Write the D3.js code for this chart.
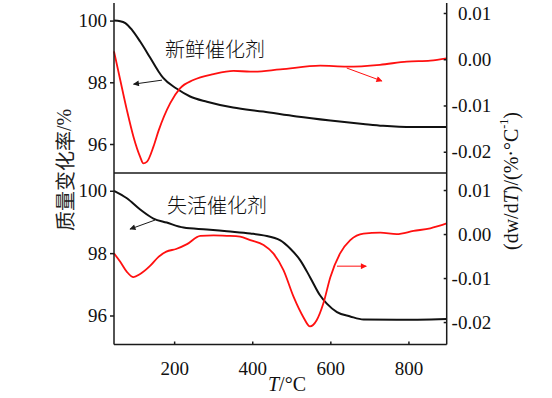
<html>

<head>
    <title>TG-DTG</title>
    <script src="https://d3js.org/d3.v7.min.js"></script>
    <style>
        body {
            margin: 0;
            background: #fff;
        }

        svg {
            font-family: "Liberation Serif", "DejaVu Serif", serif;
        }

        .axis path,
        .axis line {
            stroke: #1a1a1a;
            stroke-width: 1.5px;
        }

        .axis text {
            font-family: "Liberation Serif", serif;
            font-size: 19px;
            fill: #111;
        }

        .cn {
            font-family: "Noto Sans CJK SC", sans-serif;
            font-weight: 300;
            fill: #111;
        }

        .line {
            fill: none;
            stroke-linejoin: round;
        }
    </style>
</head>

<body>
    <div id="chart"></div>

    <script>
        /* Data: fresh catalyst (top panel) */
        var freshTgT = [46, 62, 75, 92, 113, 138, 160, 172, 207, 241, 284, 351, 428, 514, 600, 684, 735, 812, 898];
        var freshTg = [100.0, 99.98, 99.92, 99.70, 99.32, 98.81, 98.35, 98.14, 97.79, 97.54, 97.37, 97.18, 97.05, 96.89, 96.76, 96.65, 96.59, 96.55, 96.55];

        var freshDtgT = [46, 62, 79, 96, 113, 121, 130, 147, 160, 190, 215, 249, 301, 352, 395, 472, 574, 642, 727, 796, 856, 898];
        var freshDtg = [0.0017, -0.0045, -0.0110, -0.0168, -0.0211, -0.0225, -0.0222, -0.0189, -0.0155, -0.0095, -0.0063, -0.0045, -0.0032, -0.0025, -0.0027, -0.0022, -0.0014, -0.0016, -0.0012, -0.0005, -0.0003, 0.0002];

        /* Data: deactivated catalyst (bottom panel) */
        var usedTgT = [46, 79, 113, 147, 181, 224, 284, 335, 395, 429, 472, 497, 523, 548, 574, 591, 617, 651, 685, 770, 898];
        var usedTg = [100.0, 99.76, 99.40, 99.11, 98.98, 98.82, 98.76, 98.70, 98.63, 98.57, 98.41, 98.15, 97.77, 97.23, 96.64, 96.38, 96.11, 95.97, 95.87, 95.86, 95.89];

        var usedDtgT = [46, 62, 79, 96, 113, 139, 160, 180, 205, 233, 267, 301, 335, 369, 395, 429, 454, 480, 506, 531, 548, 565, 582, 600, 625, 651, 685, 728, 770, 813, 856, 898];
        var usedDtg = [-0.0044, -0.0063, -0.0086, -0.0098, -0.0091, -0.0072, -0.0052, -0.0040, -0.0034, -0.0023, -0.0004, -0.0003, -0.0004, -0.0006, -0.0014, -0.0025, -0.0044, -0.0082, -0.0143, -0.0189, -0.0210, -0.0196, -0.0158, -0.0098, -0.0044, -0.0014, 0.0001, 0.0003, 0.0000, 0.0007, 0.0013, 0.0024];

        /* Tick values */
        var xTicks = [200, 400, 600, 800];
        var tgTicks = [96, 98, 100];
        var dtgTicks = [-0.02, -0.01, 0.00, 0.01];

        var width = 552;
        var height = 398;
        var left = 114, right = 446.7;
        var top1 = 3, mid = 173, bottom2 = 344.5;

        var red = "#ff1010";

        /* Scale */
        var xScale = d3.scaleLinear().domain([46, 898]).range([left, right]);
        var yTg1 = d3.scaleLinear().domain([95.06, 100.57]).range([mid, top1]);
        var yDtg1 = d3.scaleLinear().domain([-0.0246, 0.01216]).range([mid, top1]);
        var yTg2 = d3.scaleLinear().domain([95.07, 100.57]).range([bottom2, mid]);
        var yDtg2 = d3.scaleLinear().domain([-0.0251, 0.01387]).range([bottom2, mid]);

        var svg = d3.select("#chart").append("svg")
            .attr("width", width)
            .attr("height", height);

        var defs = svg.append("defs");
        [["ahBlack", "#1a1a1a"], ["ahRed", red]].forEach(function(m) {
            defs.append("marker")
                .attr("id", m[0])
                .attr("viewBox", "0 0 10 10")
                .attr("refX", 9).attr("refY", 5)
                .attr("markerWidth", 9).attr("markerHeight", 6)
                .attr("markerUnits", "userSpaceOnUse")
                .attr("orient", "auto")
                .append("path")
                .attr("d", "M0,0 L10,5 L0,10 z")
                .attr("fill", m[1]);
        });

        function drawLine(xs, ys, yScale, color, w) {
            var pts = xs.map(function(t, i) { return [t, ys[i]]; });
            var line = d3.line()
                .x(d => xScale(d[0]))
                .y(d => yScale(d[1]))
                .curve(d3.curveMonotoneX);
            svg.append("path")
                .attr("class", "line")
                .attr("d", line(pts))
                .attr("stroke", color)
                .attr("stroke-width", w);
        }

        /* Curves */
        drawLine(freshTgT, freshTg, yTg1, "#111", 2);
        drawLine(freshDtgT, freshDtg, yDtg1, red, 1.8);
        drawLine(usedTgT, usedTg, yTg2, "#111", 2);
        drawLine(usedDtgT, usedDtg, yDtg2, red, 1.8);

        /* Axes */
        var fmtDtg = function(d) { return d3.format(".2f")(d).replace("−", "-"); };

        function leftAxis(yScale) {
            var g = svg.append("g")
                .attr("class", "axis")
                .attr("transform", `translate(${left},0)`)
                .call(d3.axisLeft(yScale).tickValues(tgTicks).tickFormat(d3.format("d"))
                    .tickSize(4).tickSizeOuter(0).tickPadding(3));
            g.attr("font-family", null).attr("font-size", null);
            g.select(".domain").remove();
        }

        function rightAxis(yScale) {
            var g = svg.append("g")
                .attr("class", "axis")
                .attr("transform", `translate(${right},0)`)
                .call(d3.axisRight(yScale).tickValues(dtgTicks).tickFormat(fmtDtg).tickSize(0).tickPadding(0));
            g.attr("font-family", null).attr("font-size", null);
            g.select(".domain").remove();
            g.selectAll(".tick line").attr("x1", -3).attr("x2", 0);
            g.selectAll(".tick text").attr("text-anchor", "end").attr("x", 44.5);
        }

        leftAxis(yTg1);
        leftAxis(yTg2);
        rightAxis(yDtg1);
        rightAxis(yDtg2);

        var xg = svg.append("g")
            .attr("class", "axis")
            .attr("transform", `translate(0,${bottom2})`)
            .call(d3.axisBottom(xScale).tickValues(xTicks).tickFormat(d3.format("d")).tickSize(0).tickPadding(17));
        xg.attr("font-family", null).attr("font-size", null);
        xg.select(".domain").remove();
        xg.selectAll(".tick line").attr("y1", -3).attr("y2", 0);

        /* Frame */
        var frame = svg.append("g").attr("stroke", "#1a1a1a").attr("stroke-width", 1.5);
        frame.append("line").attr("x1", left).attr("x2", left).attr("y1", top1).attr("y2", bottom2);
        frame.append("line").attr("x1", right).attr("x2", right).attr("y1", top1).attr("y2", bottom2);
        frame.append("line").attr("x1", left).attr("x2", right).attr("y1", mid).attr("y2", mid);
        frame.append("line").attr("x1", left).attr("x2", right).attr("y1", bottom2).attr("y2", bottom2);

        /* Annotations */
        svg.append("text").attr("class", "cn")
            .attr("x", 165).attr("y", 48.5)
            .attr("dominant-baseline", "central")
            .attr("font-size", 20)
            .text("新鲜催化剂");

        svg.append("text").attr("class", "cn")
            .attr("x", 167).attr("y", 204)
            .attr("dominant-baseline", "central")
            .attr("font-size", 20)
            .text("失活催化剂");

        function arrow(t0, v0, t1, v1, yScale, color, marker) {
            svg.append("line")
                .attr("x1", xScale(t0)).attr("y1", yScale(v0))
                .attr("x2", xScale(t1)).attr("y2", yScale(v1))
                .attr("stroke", color)
                .attr("stroke-width", 1)
                .attr("marker-end", `url(#${marker})`);
        }

        arrow(169, 98.07, 96, 97.94, yTg1, "#1a1a1a", "ahBlack");
        arrow(642, -0.0019, 732, -0.0047, yDtg1, red, "ahRed");
        arrow(151, 99.06, 87, 98.77, yTg2, "#1a1a1a", "ahBlack");
        arrow(617, -0.0073, 692, -0.0073, yDtg2, red, "ahRed");

        /* Axis titles */
        var yTitle = svg.append("text")
            .attr("transform", "translate(64,170) rotate(-90)")
            .attr("text-anchor", "middle")
            .attr("dominant-baseline", "central")
            .attr("font-size", 20)
            .style("fill", "#222");
        yTitle.append("tspan")
            .style("font-family", "'Noto Sans CJK SC', sans-serif")
            .style("fill", "#222")
            .text("质量变化率");
        yTitle.append("tspan").style("fill", "#222").text("/%");

        var y2Title = svg.append("text")
            .attr("transform", "translate(511,181) rotate(-90)")
            .attr("text-anchor", "middle")
            .attr("dominant-baseline", "central")
            .attr("font-size", 20)
            .attr("fill", "#111");
        y2Title.append("tspan").text("(dw/d");
        y2Title.append("tspan").attr("font-style", "italic").text("T");
        y2Title.append("tspan").text(")/(%·°C");
        y2Title.append("tspan").attr("font-size", 12).attr("dy", -7).text("-1");
        y2Title.append("tspan").attr("dy", 7).text(")");

        var xTitle = svg.append("text")
            .attr("x", 287).attr("y", 391)
            .attr("text-anchor", "middle")
            .attr("font-size", 20)
            .attr("fill", "#111");
        xTitle.append("tspan").attr("font-style", "italic").text("T");
        xTitle.append("tspan").text("/°C");
    </script>
</body>

</html>
